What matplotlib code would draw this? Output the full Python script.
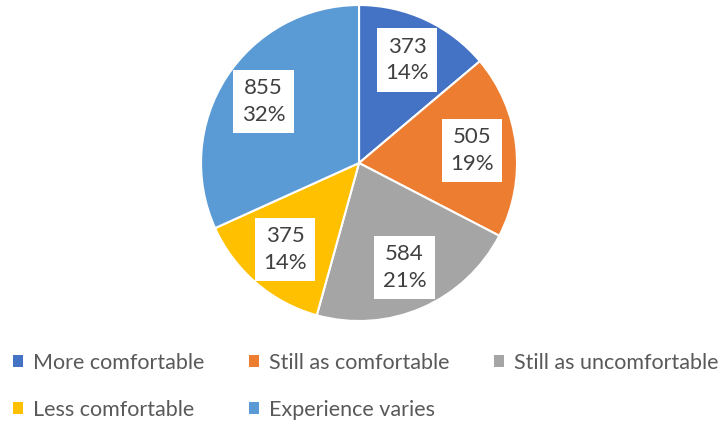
import matplotlib.pyplot as plt
from matplotlib.patches import Patch
import numpy as np

categories = ['More comfortable', 'Still as comfortable', 'Still as uncomfortable',
              'Less comfortable', 'Experience varies']
counts = [373, 505, 584, 375, 855]
pct_labels = ['14%', '19%', '21%', '14%', '32%']
colors = ['#4472C4', '#ED7D31', '#A5A5A5', '#FFC000', '#5B9BD5']

plt.rcParams['font.family'] = ['Lato', 'DejaVu Sans']

fig = plt.figure(figsize=(7.19, 4.22), dpi=100)
ax = fig.add_axes([0.2796, 0.2393, 0.4395, 0.7488])

wedges, _ = ax.pie(counts, colors=colors, startangle=90, counterclock=False,
                   radius=1, wedgeprops=dict(edgecolor='white', linewidth=1.5))
ax.set_xlim(-1, 1)
ax.set_ylim(-1, 1)
ax.set_aspect('equal')
ax.axis('off')

# value + percent labels in white boxes
for w, n, p in zip(wedges, counts, pct_labels):
    mid = np.deg2rad((w.theta1 + w.theta2) / 2)
    x, y = 0.72 * np.cos(mid), 0.72 * np.sin(mid)
    ax.text(x, y, f'{n}\n{p}', ha='center', va='center', fontsize=16,
            color='#404040', linespacing=1.4,
            bbox=dict(facecolor='white', edgecolor='none', pad=6))

handles = [Patch(facecolor=c, edgecolor='none') for c in colors]
order = [0, 3, 1, 4, 2]
fig.legend([handles[i] for i in order], [categories[i] for i in order],
           loc='upper left', bbox_to_anchor=(-0.003, 0.2), ncol=3, frameon=False,
           fontsize=15.5, labelcolor='#595959', handlelength=0.45, handleheight=0.45,
           handletextpad=0.5, columnspacing=2.05, labelspacing=1.25,
           borderaxespad=0.3)

fig.savefig('out.png', dpi=100)
